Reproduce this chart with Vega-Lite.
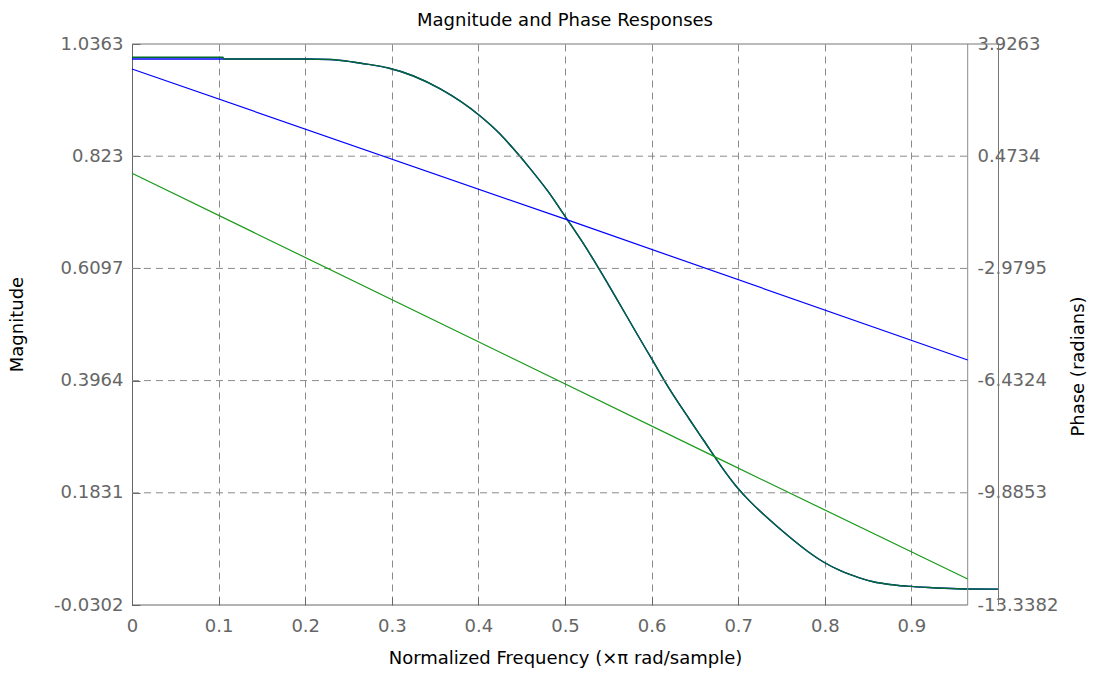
{
  "$schema": "https://vega.github.io/schema/vega-lite/v6.json",
  "width": 866,
  "height": 561,
  "autosize": {"type": "none"},
  "padding": {"left": 132, "top": 44, "right": 97, "bottom": 69},
  "background": "white",
  "title": {"text": "Magnitude and Phase Responses", "fontSize": 18, "font": "DejaVu Sans", "fontWeight": "normal", "color": "black", "baseline": "alphabetic", "offset": 12, "dy": 21, "anchor": "middle", "frame": "group"},
  "config": {"view": {"stroke": null}, "font": "DejaVu Sans"},
  "datasets": {
    "mag": [
      {"f": 0, "v": 1.0078, "s": "blue"}, {"f": 0.1, "v": 1.0078, "s": "blue"}, {"f": 0.2, "v": 1.0078, "s": "blue"},
      {"f": 0.229, "v": 1.0068, "s": "blue"}, {"f": 0.255, "v": 1.0021, "s": "blue"}, {"f": 0.273, "v": 0.9975, "s": "blue"},
      {"f": 0.296, "v": 0.9907, "s": "blue"}, {"f": 0.325, "v": 0.9755, "s": "blue"}, {"f": 0.356, "v": 0.9508, "s": "blue"},
      {"f": 0.402, "v": 0.8994, "s": "blue"}, {"f": 0.425, "v": 0.8652, "s": "blue"}, {"f": 0.44, "v": 0.838, "s": "blue"},
      {"f": 0.46, "v": 0.799, "s": "blue"}, {"f": 0.48, "v": 0.757, "s": "blue"}, {"f": 0.502, "v": 0.704, "s": "blue"},
      {"f": 0.52, "v": 0.66, "s": "blue"}, {"f": 0.54, "v": 0.607, "s": "blue"}, {"f": 0.56, "v": 0.551, "s": "blue"},
      {"f": 0.58, "v": 0.494, "s": "blue"}, {"f": 0.6, "v": 0.438, "s": "blue"}, {"f": 0.62, "v": 0.382, "s": "blue"},
      {"f": 0.644, "v": 0.322, "s": "blue"}, {"f": 0.66, "v": 0.283, "s": "blue"}, {"f": 0.681, "v": 0.232, "s": "blue"},
      {"f": 0.696, "v": 0.199, "s": "blue"}, {"f": 0.71, "v": 0.173, "s": "blue"}, {"f": 0.734, "v": 0.135, "s": "blue"},
      {"f": 0.76, "v": 0.098, "s": "blue"}, {"f": 0.78, "v": 0.072, "s": "blue"}, {"f": 0.798, "v": 0.052, "s": "blue"},
      {"f": 0.818, "v": 0.035, "s": "blue"}, {"f": 0.84, "v": 0.0215, "s": "blue"}, {"f": 0.856, "v": 0.014, "s": "blue"},
      {"f": 0.875, "v": 0.0088, "s": "blue"}, {"f": 0.895, "v": 0.0056, "s": "blue"}, {"f": 0.92, "v": 0.003, "s": "blue"},
      {"f": 0.953, "v": 0.0008, "s": "blue"}, {"f": 1.0, "v": 0.0, "s": "blue"},
      {"f": 0, "v": 1.011, "s": "green"}, {"f": 0.105, "v": 1.011, "s": "green"}, {"f": 0.106, "v": 1.0078, "s": "green"},
      {"f": 0.2, "v": 1.0078, "s": "green"},
      {"f": 0.229, "v": 1.0068, "s": "green"}, {"f": 0.255, "v": 1.0021, "s": "green"}, {"f": 0.273, "v": 0.9975, "s": "green"},
      {"f": 0.296, "v": 0.9907, "s": "green"}, {"f": 0.325, "v": 0.9755, "s": "green"}, {"f": 0.356, "v": 0.9508, "s": "green"},
      {"f": 0.402, "v": 0.8994, "s": "green"}, {"f": 0.425, "v": 0.8652, "s": "green"}, {"f": 0.44, "v": 0.838, "s": "green"},
      {"f": 0.46, "v": 0.799, "s": "green"}, {"f": 0.48, "v": 0.757, "s": "green"}, {"f": 0.502, "v": 0.704, "s": "green"},
      {"f": 0.52, "v": 0.66, "s": "green"}, {"f": 0.54, "v": 0.607, "s": "green"}, {"f": 0.56, "v": 0.551, "s": "green"},
      {"f": 0.58, "v": 0.494, "s": "green"}, {"f": 0.6, "v": 0.438, "s": "green"}, {"f": 0.62, "v": 0.382, "s": "green"},
      {"f": 0.644, "v": 0.322, "s": "green"}, {"f": 0.66, "v": 0.283, "s": "green"}, {"f": 0.681, "v": 0.232, "s": "green"},
      {"f": 0.696, "v": 0.199, "s": "green"}, {"f": 0.71, "v": 0.173, "s": "green"}, {"f": 0.734, "v": 0.135, "s": "green"},
      {"f": 0.76, "v": 0.098, "s": "green"}, {"f": 0.78, "v": 0.072, "s": "green"}, {"f": 0.798, "v": 0.052, "s": "green"},
      {"f": 0.818, "v": 0.035, "s": "green"}, {"f": 0.84, "v": 0.0215, "s": "green"}, {"f": 0.856, "v": 0.014, "s": "green"},
      {"f": 0.875, "v": 0.0088, "s": "green"}, {"f": 0.895, "v": 0.0056, "s": "green"}, {"f": 0.92, "v": 0.003, "s": "green"},
      {"f": 0.953, "v": 0.0008, "s": "green"}, {"f": 1.0, "v": 0.0, "s": "green"}
    ],
    "phase": [
      {"f": 0, "p": 3.157, "s": "blue"}, {"f": 0.502, "p": -1.48, "s": "blue"}, {"f": 0.965, "p": -5.8, "s": "blue"},
      {"f": 0, "p": -0.05, "s": "green"}, {"f": 0.681, "p": -8.88, "s": "green"}, {"f": 0.965, "p": -12.54, "s": "green"}
    ],
    "grid": [{"v": 0.1831}, {"v": 0.3964}, {"v": 0.6097}, {"v": 0.823}],
    "one": [{}]
  },
  "layer": [
    {
      "layer": [
        {
          "data": {"name": "mag"},
          "mark": {"type": "line", "strokeWidth": 1.4, "interpolate": "monotone"},
          "encoding": {
            "x": {
              "field": "f", "type": "quantitative",
              "scale": {"domain": [0, 1], "nice": false, "zero": false},
              "axis": {
                "values": [0, 0.1, 0.2, 0.3, 0.4, 0.5, 0.6, 0.7, 0.8, 0.9],
                "labelExpr": "'' + datum.value",
                "grid": true, "gridColor": "#8a8a8a", "gridDash": [7, 5], "gridWidth": 1,
                "domain": false, "tickSize": -8, "tickColor": "#666666",
                "labelPadding": 34, "labelBaseline": "alphabetic", "labelColor": "#666666",
                "labelFont": "DejaVu Sans", "labelFontSize": 18, "labelOverlap": false, "labelFlush": false, "labelBound": false,
                "title": "Normalized Frequency (×π rad/sample)", "titleFont": "DejaVu Sans", "titleFontSize": 18,
                "titleFontWeight": "normal", "titleColor": "black", "titleBaseline": "alphabetic", "titleY": 58
              }
            },
            "y": {
              "field": "v", "type": "quantitative",
              "scale": {"domain": [-0.0302, 1.0363], "nice": false, "zero": false},
              "axis": {
                "orient": "left",
                "values": [-0.0302, 0.1831, 0.3964, 0.6097, 0.823, 1.0363],
                "labelExpr": "'' + datum.value",
                "grid": false, "domain": true, "domainColor": "#666666", "tickSize": -8, "tickColor": "#666666",
                "labelPadding": 17, "labelColor": "#666666", "labelFont": "DejaVu Sans", "labelFontSize": 18,
                "labelOverlap": false, "labelFlush": false, "labelBound": false,
                "title": "Magnitude", "titleFont": "DejaVu Sans", "titleFontSize": 18, "titleFontWeight": "normal",
                "titleColor": "black", "titleAngle": 270, "titleX": -106, "titleY": 280, "titleBaseline": "bottom", "titleAlign": "center"
              }
            },
            "color": {"field": "s", "type": "nominal", "scale": {"domain": ["blue", "green"], "range": ["#0000ff", "#006b2a"]}, "legend": null}
          }
        },
        {
          "data": {"name": "grid"},
          "mark": {"type": "rule", "color": "#8a8a8a", "strokeDash": [7, 5], "strokeWidth": 1},
          "encoding": {
            "y": {"field": "v", "type": "quantitative"},
            "x": {"datum": 0, "type": "quantitative"},
            "x2": {"datum": 0.965}
          }
        },
        {
          "data": {"name": "one"},
          "mark": {"type": "rule", "color": "#8c8c8c", "strokeWidth": 1},
          "encoding": {
            "x": {"datum": 0.965, "type": "quantitative"}
          }
        },
        {
          "data": {"name": "one"},
          "mark": {"type": "rule", "color": "#777777", "strokeWidth": 1},
          "encoding": {
            "y": {"datum": 1.0363, "type": "quantitative"},
            "x": {"datum": 0, "type": "quantitative"},
            "x2": {"datum": 1}
          }
        },
        {
          "data": {"name": "one"},
          "mark": {"type": "rule", "color": "#666666", "strokeWidth": 1},
          "encoding": {
            "y": {"datum": -0.0302, "type": "quantitative"},
            "x": {"datum": 0, "type": "quantitative"},
            "x2": {"datum": 0.965}
          }
        }
      ]
    },
    {
      "data": {"name": "phase"},
      "mark": {"type": "line", "strokeWidth": 1.2},
      "encoding": {
        "x": {"field": "f", "type": "quantitative"},
        "y": {
          "field": "p", "type": "quantitative",
          "scale": {"domain": [-13.3382, 3.9263], "nice": false, "zero": false},
          "axis": {
            "orient": "right",
            "values": [-13.3382, -9.8853, -6.4324, -2.9795, 0.4734, 3.9263],
            "labelExpr": "'' + datum.value",
            "grid": false, "domain": true, "domainColor": "#777777", "ticks": false,
            "labelPadding": -21, "labelAlign": "left", "labelColor": "#666666", "labelFont": "DejaVu Sans", "labelFontSize": 18,
            "labelOverlap": false, "labelFlush": false, "labelBound": false,
            "title": "Phase (radians)", "titleFont": "DejaVu Sans", "titleFontSize": 18, "titleFontWeight": "normal",
            "titleColor": "black", "titleAngle": 270, "titleX": 89, "titleY": 322, "titleBaseline": "bottom", "titleAlign": "center"
          }
        },
        "color": {"field": "s", "type": "nominal", "scale": {"domain": ["blue", "green"], "range": ["#0000ff", "#1a9a1a"]}, "legend": null}
      }
    }
  ],
  "resolve": {"scale": {"y": "independent", "color": "independent"}}
}
